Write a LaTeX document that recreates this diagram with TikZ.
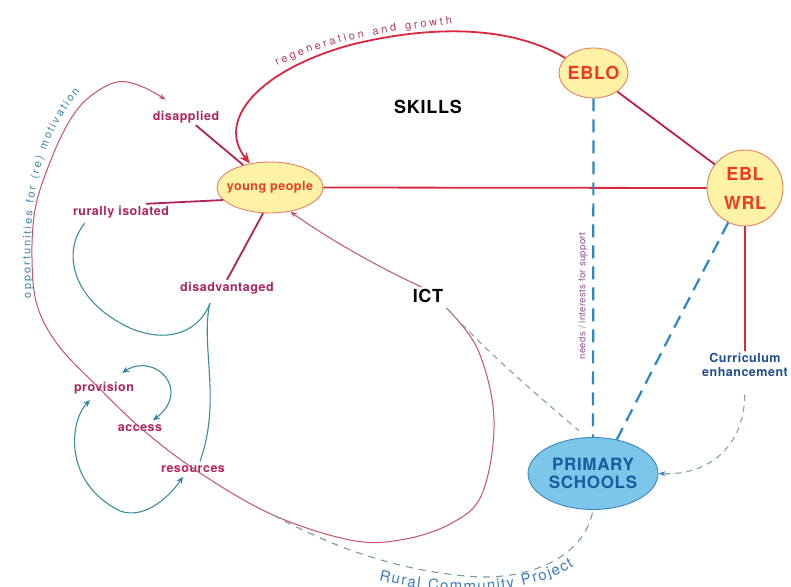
\documentclass[tikz,border=0pt]{standalone}
\usepackage{fontspec}
\setmainfont{TeX Gyre Heros}[LetterSpace=4]
\usetikzlibrary{arrows.meta,decorations.text,calc,shapes.geometric}
\definecolor{crim}{HTML}{B0245A}
\definecolor{redl}{HTML}{D8283E}
\definecolor{crl}{HTML}{C0204A}
\definecolor{ornge}{HTML}{EE3B23}
\definecolor{yfill}{HTML}{FDF2A6}
\definecolor{ydraw}{HTML}{E9825E}
\definecolor{tealc}{HTML}{3A8E9C}
\definecolor{tipc}{HTML}{2D7FAE}
\definecolor{bdashc}{HTML}{2B87C6}
\definecolor{psfill}{HTML}{7CC6EA}
\definecolor{psdraw}{HTML}{3A88BE}
\definecolor{pstext}{HTML}{175E9E}
\definecolor{currc}{HTML}{1E4E8E}
\definecolor{grayd}{HTML}{8A9EA8}
\definecolor{purp}{HTML}{8C4E94}
\definecolor{ruralc}{HTML}{3C7DBE}
\definecolor{oppc}{HTML}{3A86AA}
\definecolor{regc}{HTML}{B23A5E}
\definecolor{loopc}{HTML}{C8506E}
\begin{document}
\begin{tikzpicture}[x=1pt,y=-1pt,
  lbl/.style={font=\fontsize{12.5}{14}\selectfont\bfseries, text=crim, inner sep=2pt},
  yel/.style={ellipse, draw=ydraw, fill=yfill, line width=0.9pt, text=ornge, inner sep=0pt},
  redln/.style={draw=redl, line width=1.8pt},
  crln/.style={draw=crim, line width=1.8pt},
  thinr/.style={draw=loopc, line width=1pt},
  tl/.style={draw=tealc, line width=1.1pt},
  bdash/.style={draw=bdashc, line width=2.2pt, dash pattern=on 13pt off 8pt},
  gdash/.style={draw=grayd, line width=1.1pt, dash pattern=on 6pt off 5pt}]
\useasboundingbox (0,0) rectangle (791,586);
\fill[white] (0,0) rectangle (791,586);

% main nodes
\node[yel, minimum width=106pt, minimum height=51pt, inner xsep=-10pt,
  font=\fontsize{12.5}{14}\selectfont\bfseries] (yp) at (270,187.5) {young people};
\node[yel, minimum width=69pt, minimum height=50pt, inner xsep=-6pt,
  font=\fontsize{18}{20}\selectfont\bfseries] (eblo) at (593.5,73) {EBLO};
\node[yel, circle, minimum size=76pt, align=center,
  font=\fontsize{18}{29}\selectfont\bfseries] (ebl) at (745,188) {EBL\\WRL};
\node[ellipse, draw=psdraw, fill=psfill, line width=0.9pt, inner sep=0pt,
  minimum width=130pt, minimum height=72pt, align=center, text=pstext,
  font=\fontsize{17}{18}\selectfont\bfseries] (ps) at (593,473.5) {PRIMARY\\SCHOOLS};
\node[font=\fontsize{18}{20}\selectfont\bfseries] (skills) at (428,107) {SKILLS};
\node[font=\fontsize{18}{20}\selectfont\bfseries, inner sep=2pt] (ict) at (428,296) {ICT};
\node[align=center, text=currc, inner sep=2pt,
  font=\fontsize{12.5}{14}\selectfont\bfseries] (curr) at (745,365) {Curriculum\\enhancement};

% crimson labels
\node[lbl] (disapp) at (186,117) {disapplied};
\node[lbl] (rural) at (121,212) {rurally isolated};
\node[lbl] (dis) at (227,288) {disadvantaged};
\node[lbl] (prov) at (104,388) {provision};
\node[lbl] (acc) at (140,428) {access};
\node[lbl] (res) at (193,469) {resources};

\node[rotate=90, text=purp, font=\fontsize{9.5}{11}\selectfont] (needs) at (583,296) {needs / interests for support};

% red links
\draw[redln] (yp.east) -- (ebl.west);
\draw[draw=crl, line width=1.8pt] (eblo.-38) -- (ebl.142);
\draw[draw=redl, line width=1.6pt] (ebl.south) -- (curr.north);
\draw[redln, -{Stealth[length=11pt,width=9pt]}] (eblo.152) .. controls (510,25) and (430,25) .. (350,45) .. controls (260,70) and (215,120) .. (yp.130);
\draw[crln] (disapp) -- (yp);
\draw[crln] ($(rural.north east)+(-25,0)$) -- (yp.195);
\draw[crln] (dis.north) -- (yp.255);
\draw[thinr, -{Stealth[length=7pt,width=5pt]}] (ict.125) .. controls (380,268) and (330,240) .. (yp.310);

% big loop from ICT to disapplied
\coordinate (ictout) at ($(ict.south east)+(1,3)$);
\coordinate (distip) at ($(disapp.north west)+(15,-9)$);
\draw[thinr, -{Stealth[length=7pt,width=5pt]}] plot[smooth, tension=0.6] coordinates {(ictout) (478,350) (494,420) (482,494) (450,524) (400,540) (350,540) (273,515) (200,473) (143,430) (98,387) (58,345) (37,305) (32,258) (35,210) (47,170) (66,127) (87,99) (117,82) (143,87) (distip)};

% teal curves
\coordinate (cusp) at ($(dis.south)+(-17,7)$);
\draw[tl] ($(rural.south west)+(14,3)$) .. controls (62,250) and (70,300) .. (130,328) .. controls (170,345) and (200,330) .. (cusp);
\draw[tl] (cusp) .. controls (200,345) and (222,400) .. ($(res.north)+(7,-2)$);
\draw[tl, {Stealth[length=7pt,width=6pt,color=tipc]}-{Stealth[length=7pt,width=6pt,color=tipc]}]
  ($(prov.north east)+(-14,-7)$) .. controls (155,352) and (192,390) .. ($(acc.north)+(13,-2)$);
\draw[tl, {Stealth[length=7pt,width=6pt,color=tipc]}-{Stealth[length=7pt,width=6pt,color=tipc]}]
  ($(prov.south)+(-14,4)$) .. controls (70,420) and (62,482) .. (120,511) .. controls (145,520) and (170,496) .. ($(res.south)+(-10,2)$);

% dashed links
\draw[bdash] (eblo.south) -- (ps.north);
\draw[bdash] (ebl.244) -- (ps.55);
\draw[gdash, shorten >=10pt] (ictout) .. controls (490,355) and (537,395) .. (ps.100);
\draw[gdash, shorten <=16pt, -{Stealth[length=7pt,width=5pt,color=tipc]}] (curr.south) .. controls +(-1,68) and +(50,2) .. (ps.east);
\coordinate (rcp) at (273,515);

% curved texts
\path[decorate, decoration={text along path, text color=regc,
  text={|\fontsize{11}{13}\selectfont|regeneration and growth}, text align={fit to path}}]
  (277,66) .. controls (320,45) and (370,32) .. (452,24);
\path[decorate, decoration={text along path, text color=oppc,
  text={|\fontsize{11}{13}\selectfont|opportunities for (re) motivation}, text align={fit to path}}]
  (31,298) .. controls (29,220) and (30,150) .. (80,92);
\path[decorate, decoration={text along path, text color=ruralc,
  text={|\fontsize{15}{17}\selectfont|Rural Community Project}, text align={fit to path}}]
  (379,580) .. controls (440,596) and (520,598) .. (574,566);
\draw[draw=grayd!80!tealc, line width=1.1pt, dash pattern=on 7pt off 6pt] (rcp) .. controls (320,540) and (390,572) .. (480,577) .. controls (535,578) and (585,555) .. (ps.south);
\end{tikzpicture}
\end{document}
